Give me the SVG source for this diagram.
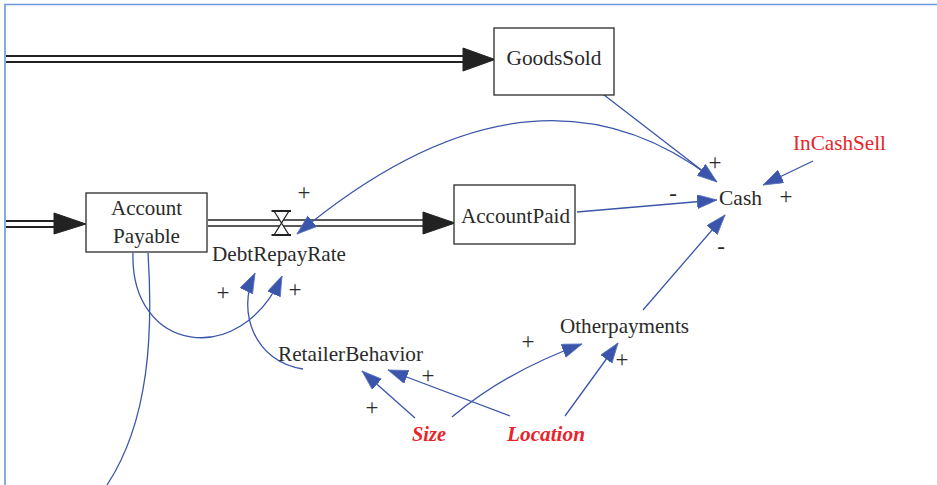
<svg xmlns="http://www.w3.org/2000/svg" width="937" height="485" viewBox="0 0 937 485">
<style>
.frame{stroke:#6b98d8;stroke-width:1.6;fill:none}
.box{fill:#fff;stroke:#2a2a2a;stroke-width:1.3}
.pipe{stroke:#222;fill:none}
.head{fill:#222;stroke:#222;stroke-width:1}
.link{stroke:#3a55a9;stroke-width:1.3;fill:none;marker-end:url(#ah)}
.plain{stroke:#3a55a9;stroke-width:1.3;fill:none}
</style>
<defs>
<marker id="ah" markerUnits="userSpaceOnUse" markerWidth="22" markerHeight="16" refX="20" refY="7" orient="auto" viewBox="0 0 22 16">
<path d="M0,0 L20,7 L0,14 Z" fill="#3a55a9" stroke="#5a73bf" stroke-width="0.8"/>
</marker>
</defs>
<rect width="937" height="485" fill="#fff"/>
<path class="frame" d="M5,485 V4.5 H937"/>

<g id="connectors">
<line class="pipe" stroke-width="2" x1="6" y1="56" x2="465" y2="56"/>
<line class="pipe" stroke-width="2" x1="6" y1="62" x2="465" y2="62"/>
<polygon class="head" points="463,48 495,59.5 463,71"/>
<line class="pipe" stroke-width="2" x1="6" y1="221" x2="56" y2="221"/>
<line class="pipe" stroke-width="2" x1="6" y1="227" x2="56" y2="227"/>
<polygon class="head" points="54,213 86,224 54,234"/>
<line class="pipe" stroke-width="1.4" x1="208" y1="220" x2="425" y2="220"/>
<line class="pipe" stroke-width="1.4" x1="208" y1="226" x2="425" y2="226"/>
<polygon class="head" points="423,212 455,223 423,234"/>
<g id="valve">
<polygon points="274,211 289,211 274,235 289,235" fill="#fff" stroke="#222" stroke-width="1.3"/>
<line x1="271.5" y1="211" x2="291" y2="211" stroke="#222" stroke-width="2"/>
<line x1="271.5" y1="235" x2="291" y2="235" stroke="#222" stroke-width="2"/>
</g>
<path class="link" d="M595,88 L717,182"/>
<path class="link" d="M712,178 Q530,40 297,234"/>
<path class="link" d="M577,212 L717,200"/>
<path class="link" d="M813,161 L763,185"/>
<path class="link" d="M643,310 L725,215"/>
<path class="link" d="M452,417 Q505,372 582,344"/>
<path class="link" d="M565,416 L618,343"/>
<path class="link" d="M415,418 L362,371"/>
<path class="link" d="M510,416 L388,370"/>
<path class="link" d="M303,369 C255,362 236,312 255,273"/>
<path class="link" d="M133,253 C130,352 240,370 282,276"/>
<path class="plain" d="M148,253 C153,330 150,420 107,485"/>
</g>

<g font-family="Liberation Serif, serif" font-size="21" fill="#2a2a2a" text-anchor="middle">
<g id="GoodsSold">
<rect class="box" x="494" y="28" width="120" height="67"/>
<text x="554" y="65" textLength="95" lengthAdjust="spacingAndGlyphs">GoodsSold</text>
</g>
<g id="AccountPayable">
<rect class="box" x="86" y="193" width="121" height="59"/>
<text x="146.5" y="215" textLength="71" lengthAdjust="spacingAndGlyphs">Account</text>
<text x="146.5" y="243" textLength="67" lengthAdjust="spacingAndGlyphs">Payable</text>
</g>
<g id="DebtRepayRate">
<text x="279" y="261" textLength="134" lengthAdjust="spacingAndGlyphs">DebtRepayRate</text>
</g>
<g id="AccountPaid">
<rect class="box" x="454" y="185" width="121" height="59"/>
<text x="515.5" y="223" textLength="109" lengthAdjust="spacingAndGlyphs">AccountPaid</text>
</g>
<g id="Cash">
<text x="740.5" y="205" textLength="43" lengthAdjust="spacingAndGlyphs">Cash</text>
</g>
<g id="InCashSell">
<text x="839.5" y="150" fill="#e8242a" textLength="93" lengthAdjust="spacingAndGlyphs">InCashSell</text>
</g>
<g id="Otherpayments">
<text x="624.5" y="333" textLength="129" lengthAdjust="spacingAndGlyphs">Otherpayments</text>
</g>
<g id="RetailerBehavior">
<text x="350.5" y="361" textLength="145" lengthAdjust="spacingAndGlyphs">RetailerBehavior</text>
</g>
<g id="Size">
<text x="429" y="441" fill="#e8242a" font-weight="bold" font-style="italic" textLength="34" lengthAdjust="spacingAndGlyphs">Size</text>
</g>
<g id="Location">
<text x="546" y="441" fill="#e8242a" font-weight="bold" font-style="italic" textLength="78" lengthAdjust="spacingAndGlyphs">Location</text>
</g>

<g id="signs" font-size="23">
<text x="715" y="170">+</text>
<text x="673" y="201">-</text>
<text x="786" y="204">+</text>
<text x="721" y="254">-</text>
<text x="304" y="200">+</text>
<text x="223" y="300">+</text>
<text x="295" y="297">+</text>
<text x="528" y="349">+</text>
<text x="622" y="367">+</text>
<text x="428" y="383">+</text>
<text x="372" y="415">+</text>
</g>
</g>
</svg>
